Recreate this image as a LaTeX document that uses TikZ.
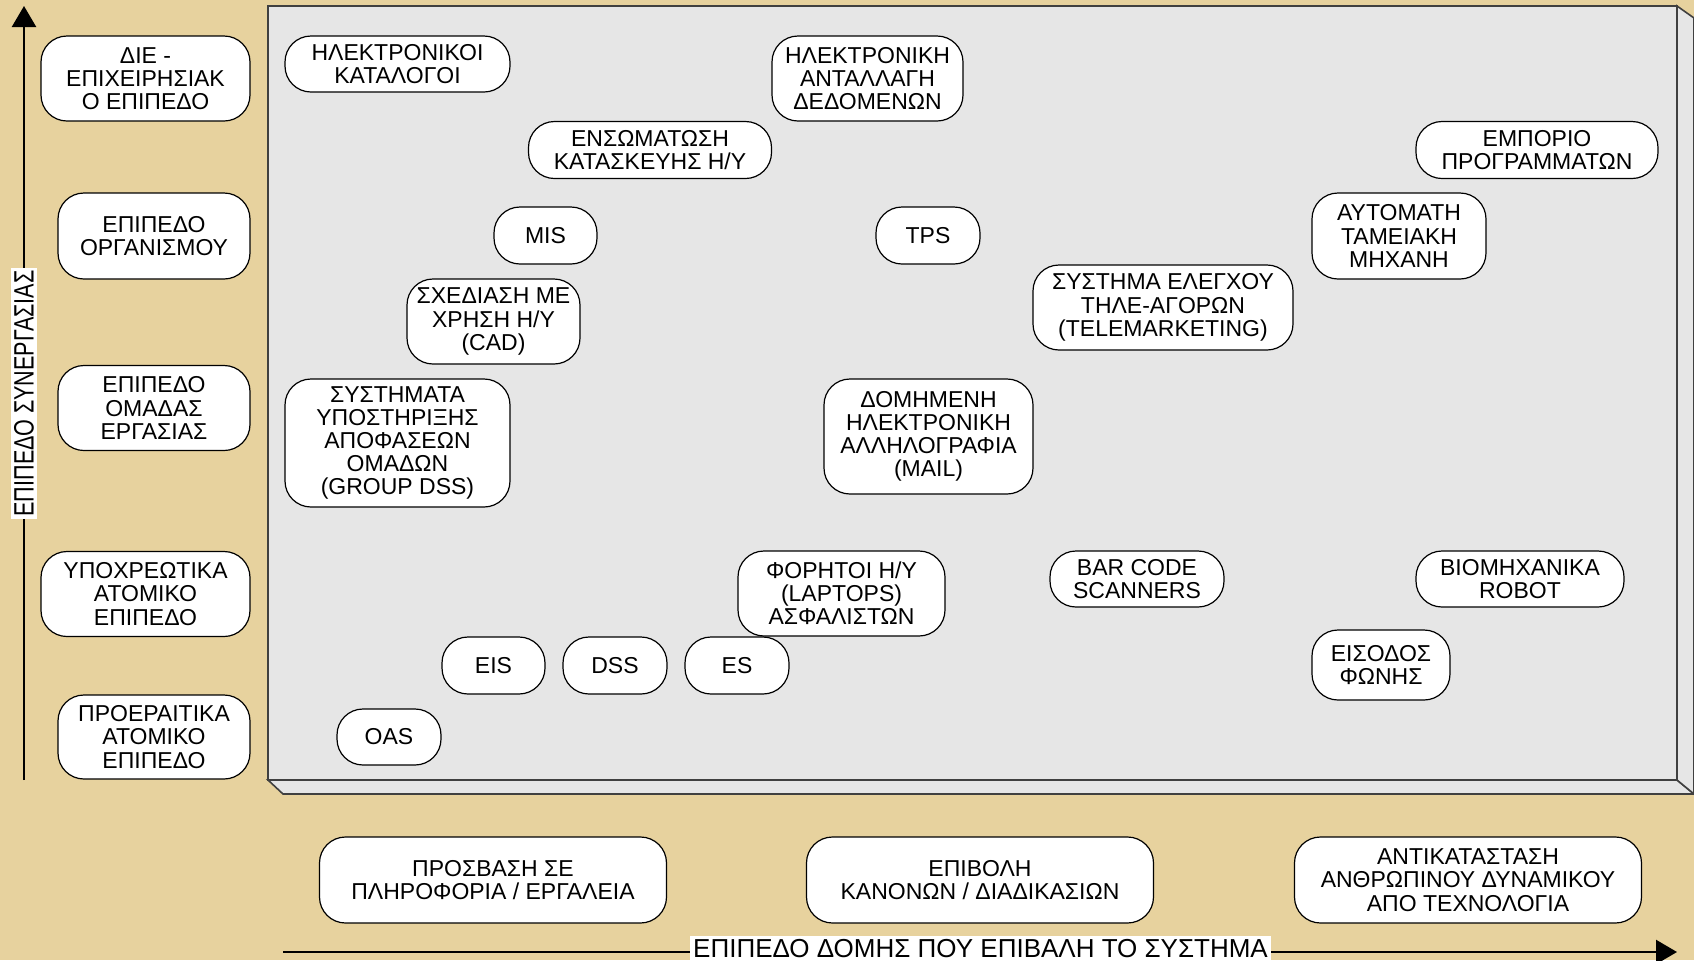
\documentclass[tikz,border=0pt]{standalone}
\usepackage{fontspec}
\setmainfont{Liberation Sans}
\usepackage{xcolor}
\usepackage{tikz}
\usetikzlibrary{arrows.meta}
\definecolor{papyrus}{RGB}{231,210,158}
\definecolor{panelgray}{RGB}{230,230,230}
\definecolor{paneledge}{RGB}{64,64,64}
\newcommand{\boxfont}{\fontsize{11.5}{11.6}\selectfont}
\newcommand{\axisfont}{\fontsize{13}{14}\selectfont}

\begin{document}
\begin{tikzpicture}[x=0.5pt,y=-0.5pt,
  pill/.style={draw=black,fill=white,line width=0.6pt,rounded corners=13pt,
    align=center,inner sep=0pt,font=\boxfont},
  sz/.style 2 args={minimum width=#1*0.5pt,minimum height=#2*0.5pt},
  axis/.style={line width=1.2pt,-{Triangle[width=12pt,length=10.5pt]}},
  axislabel/.style={fill=white,inner sep=1.5pt,font=\axisfont}]
  \useasboundingbox (0,0) rectangle (1694,960);
  \fill[papyrus] (0,0) rectangle (1694,960);

  \filldraw[fill=panelgray,draw=paneledge,line width=0.8pt]
    (268,780) -- (1677,780) -- (1694,794) -- (283,794) -- cycle;
  \filldraw[fill=panelgray,draw=paneledge,line width=0.8pt]
    (1677,6) -- (1694,18) -- (1694,794) -- (1677,780) -- cycle;
  \filldraw[fill=panelgray,draw=paneledge,line width=0.8pt] (268,6) rectangle (1677,780);

  \coordinate (yfoot) at (24,780);
  \coordinate (ytip) at (24,6);
  \draw[axis] (yfoot) -- (ytip);
  \node[axislabel,font=\fontsize{14}{14}\selectfont,rotate=90] (ylab) at (24,393.5)
    {\scalebox{0.77}[1]{ΕΠΙΠΕΔΟ ΣΥΝΕΡΓΑΣΙΑΣ}};

  \coordinate (xfoot) at (283,952);
  \coordinate (xtip) at (1677,952);
  \draw[axis] (xfoot) -- (xtip);
  \node[axislabel,anchor=base] (xlab) at (980.5,957) {ΕΠΙΠΕΔΟ ΔΟΜΗΣ ΠΟΥ ΕΠΙΒΑΛΗ ΤΟ ΣΥΣΤΗΜΑ};

  \node[pill,sz={209}{85}] (lvlinter) at (145.5,78.5) {ΔΙΕ -\\ΕΠΙΧΕΙΡΗΣΙΑΚ\\Ο ΕΠΙΠΕΔΟ};
  \node[pill,sz={192}{86}] (lvlorg) at (154,236) {ΕΠΙΠΕΔΟ\\ΟΡΓΑΝΙΣΜΟΥ};
  \node[pill,sz={192}{85}] (lvlgroup) at (154,408) {ΕΠΙΠΕΔΟ\\ΟΜΑΔΑΣ\\ΕΡΓΑΣΙΑΣ};
  \node[pill,sz={209}{85}] (lvlmand) at (145.5,594) {ΥΠΟΧΡΕΩΤΙΚΑ\\ΑΤΟΜΙΚΟ\\ΕΠΙΠΕΔΟ};
  \node[pill,sz={192}{84}] (lvlopt) at (154,737) {ΠΡΟΕΡΑΙΤΙΚΑ\\ΑΤΟΜΙΚΟ\\ΕΠΙΠΕΔΟ};

  \node[pill,sz={347}{86}] (access) at (493,880) {ΠΡΟΣΒΑΣΗ ΣΕ\\ΠΛΗΡΟΦΟΡΙΑ / ΕΡΓΑΛΕΙΑ};
  \node[pill,sz={347}{86}] (rules) at (980,880) {ΕΠΙΒΟΛΗ\\ΚΑΝΟΝΩΝ / ΔΙΑΔΙΚΑΣΙΩΝ};
  \node[pill,sz={347}{86}] (replace) at (1468,880) {ΑΝΤΙΚΑΤΑΣΤΑΣΗ\\ΑΝΘΡΩΠΙΝΟΥ ΔΥΝΑΜΙΚΟΥ\\ΑΠΟ ΤΕΧΝΟΛΟΓΙΑ};

  \node[pill,sz={225}{56}] (elcat) at (397.5,64) {ΗΛΕΚΤΡΟΝΙΚΟΙ\\ΚΑΤΑΛΟΓΟΙ};
  \node[pill,sz={191}{85}] (edi) at (867.5,78.5) {ΗΛΕΚΤΡΟΝΙΚΗ\\ΑΝΤΑΛΛΑΓΗ\\ΔΕΔΟΜΕΝΩΝ};
  \node[pill,sz={243}{57}] (cim) at (650,150) {ΕΝΣΩΜΑΤΩΣΗ\\ΚΑΤΑΣΚΕΥΗΣ Η/Υ};
  \node[pill,sz={242}{57}] (swtrade) at (1537,150) {ΕΜΠΟΡΙΟ\\ΠΡΟΓΡΑΜΜΑΤΩΝ};
  \node[pill,sz={103}{57}] (mis) at (545.5,235.5) {MIS};
  \node[pill,sz={104}{57}] (tps) at (928,235.5) {TPS};
  \node[pill,sz={174}{86}] (atm) at (1399,236) {ΑΥΤΟΜΑΤΗ\\ΤΑΜΕΙΑΚΗ\\ΜΗΧΑΝΗ};
  \node[pill,sz={173}{85}] (cad) at (493.5,321.5) {ΣΧΕΔΙΑΣΗ ΜΕ\\ΧΡΗΣΗ Η/Υ\\(CAD)};
  \node[pill,sz={260}{85}] (telemkt) at (1163,307.5) {ΣΥΣΤΗΜΑ ΕΛΕΓΧΟΥ\\ΤΗΛΕ-ΑΓΟΡΩΝ\\(TELEMARKETING)};
  \node[pill,sz={225}{128}] (gdss) at (397.5,443) {ΣΥΣΤΗΜΑΤΑ\\ΥΠΟΣΤΗΡΙΞΗΣ\\ΑΠΟΦΑΣΕΩΝ\\ΟΜΑΔΩΝ\\(GROUP DSS)};
  \node[pill,sz={209}{115}] (mail) at (928.5,436.5) {ΔΟΜΗΜΕΝΗ\\ΗΛΕΚΤΡΟΝΙΚΗ\\ΑΛΛΗΛΟΓΡΑΦΙΑ\\(MAIL)};
  \node[pill,sz={207}{85}] (laptops) at (841.5,593.5) {ΦΟΡΗΤΟΙ Η/Υ\\(LAPTOPS)\\ΑΣΦΑΛΙΣΤΩΝ};
  \node[pill,sz={174}{56}] (barcode) at (1137,579) {BAR CODE\\SCANNERS};
  \node[pill,sz={208}{56}] (robot) at (1520,579) {ΒΙΟΜΗΧΑΝΙΚΑ\\ROBOT};
  \node[pill,sz={138}{70}] (voice) at (1381,665) {ΕΙΣΟΔΟΣ\\ΦΩΝΗΣ};
  \node[pill,sz={103}{57}] (eis) at (493.5,665.5) {EIS};
  \node[pill,sz={104}{57}] (dss) at (615,665.5) {DSS};
  \node[pill,sz={104}{57}] (es) at (737,665.5) {ES};
  \node[pill,sz={104}{56}] (oas) at (389,737) {OAS};
\end{tikzpicture}
\end{document}
